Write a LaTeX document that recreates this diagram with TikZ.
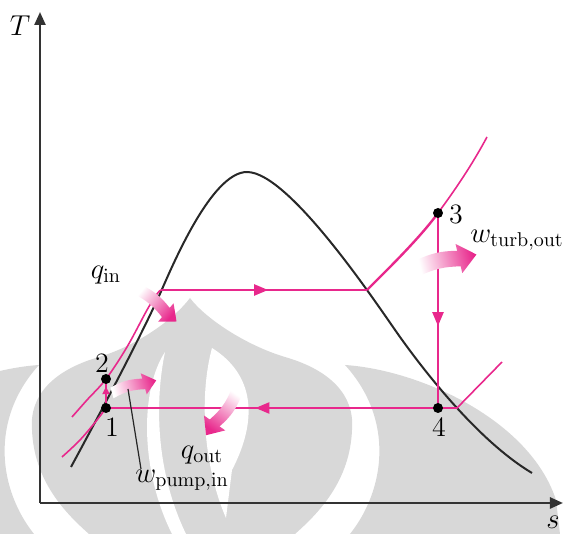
\documentclass[tikz,border=0pt]{standalone}
\usetikzlibrary{arrows.meta,decorations.markings}
\definecolor{mypink}{RGB}{232,40,140}
\definecolor{wm}{RGB}{216,216,216}
\definecolor{dome}{RGB}{40,40,40}
\newcommand{\fatarr}[8]{%
  \begin{scope}[shift={(#1,#2)},rotate=#3]
    \shade[bottom color=white,top color=mypink,shading angle={#3-90},draw=none]
      (0,#5) to[bend left=#8] (#4-#7,#5) -- (#4-#7,#6) -- (#4,0)
      -- (#4-#7,-#6) -- (#4-#7,-#5) to[bend right=#8] (0,-#5) -- cycle;
  \end{scope}}
\tikzset{
  axisline/.style={line width=1.2pt,draw=black!80,-{Triangle[length=6.5pt,width=5.5pt]}},
  domeline/.style={line width=1pt,draw=dome},
  cycleline/.style={line width=1.2pt,draw=mypink},
  thinpink/.style={line width=0.8pt,draw=mypink},
  midarr/.style={postaction={decorate},decoration={markings,
      mark=at position #1 with {\arrow[mypink]{Triangle[length=7pt,width=5.5pt]}}}},
  smallarr/.style={postaction={decorate},decoration={markings,
      mark=at position #1 with {\arrow[mypink]{Triangle[length=4pt,width=3.5pt]}}}},
  dotnode/.style={circle,fill=black,inner sep=0pt,minimum size=5pt},
  lab/.style={inner sep=0pt,font=\fontsize{14}{16}\selectfont},
}
\begin{document}
\begin{tikzpicture}[x=0.5pt,y=-0.5pt]
\useasboundingbox (0,0) rectangle (570,534);
% watermark
\fill[wm] (190,298) .. controls (205,318) and (245,345) .. (285,357)
  .. controls (330,370) and (355,395) .. (352,430)
  .. controls (350,480) and (320,512) .. (295,534) -- (89,534)
  .. controls (64,512) and (34,480) .. (32,430)
  .. controls (29,395) and (54,370) .. (99,357)
  .. controls (139,345) and (175,318) .. (190,298) -- cycle;
\fill[wm] (345,365) .. controls (420,370) and (530,420) .. (556,500) -- (560,534) -- (350,534)
  .. controls (385,490) and (395,420) .. (345,365) -- cycle;
\fill[wm] (39,365) .. controls (-36,370) and (-146,420) .. (-172,500) -- (-176,534) -- (34,534)
  .. controls (-1,490) and (-11,420) .. (39,365) -- cycle;
\fill[white] (212,348) .. controls (255,375) and (258,420) .. (232,470) -- (226,518)
  .. controls (205,470) and (198,400) .. (212,348) -- cycle;
\fill[white] (165,352) .. controls (140,390) and (140,470) .. (172,534) -- (186,534)
  .. controls (155,470) and (155,400) .. (165,352) -- cycle;
% axes
\coordinate (O) at (40,503);
\coordinate (Ttop) at (40,12);
\coordinate (Sright) at (563,503);
\draw[axisline] (O) -- (Ttop);
\draw[axisline] (O) -- (Sright);
\node[lab] (Tl) at (20,26) {$T$};
\node[lab] (sl) at (553,522) {$s$};
% dome
\draw[domeline] (71,467) .. controls (110,395) and (146,326) .. (163,287)
  .. controls (180,248) and (215,172) .. (247,172)
  .. controls (290,172) and (380,309) .. (400,337)
  .. controls (435,386) and (485,445) .. (532,473);
% cycle points
\coordinate (p1) at (106,408);
\coordinate (p2) at (106,379);
\coordinate (p3) at (438,213);
\coordinate (p4) at (438,408);
\coordinate (pa) at (161,290);
\coordinate (pb) at (367,290);
\coordinate (p4b) at (457,408);
\coordinate (lowend) at (502,362);
% isobars
\draw[thinpink] plot[smooth,tension=0.6] coordinates {(72,417) (87,400) (106,379) (127,347) (147,310) (157,294) (161,290)};
\draw[thinpink] plot[smooth,tension=0.6] coordinates {(62,457) (80,440) (97,420) (106,408)};
\draw[cycleline] (367,290) .. controls (385,272) and (420,238) .. (438,213);
\draw[thinpink] (438,213) .. controls (455,190) and (472,165) .. (487,137);
\draw[thinpink] (p4) -- (p4b) -- (lowend);
% cycle lines
\draw[cycleline,midarr=0.52] (pa) -- (pb);
\draw[cycleline,midarr=0.58] (p3) -- (p4);
\draw[cycleline,midarr=0.55] (p4) -- (p1);
\draw[cycleline,smallarr=0.75] (p1) -- (p2);
% dots
\node[dotnode] (n1) at (p1) {};
\node[dotnode] (n2) at (p2) {};
\node[dotnode] (n3) at (p3) {};
\node[dotnode] (n4) at (p4) {};
\node[lab] (l1) at (112,427) {1};
\node[lab] (l2) at (102,363) {2};
\node[lab] (l3) at (456,214) {3};
\node[lab] (l4) at (439,427) {4};
% energy arrows
\fatarr{139}{290}{-40}{49}{6}{12}{14}{12}
\fatarr{112}{393}{16}{46}{5.5}{11}{13}{14}
\fatarr{237}{391}{-125}{54}{6}{13}{15}{14}
\fatarr{418}{268}{13}{60}{8}{15}{18}{12}
% labels
\node[lab] (qin) at (106,275) {$q_{\mathrm{in}}$};
\node[lab] (qout) at (202,455) {$q_{\mathrm{out}}$};
\node[lab] (wturb) at (517,240) {$w_{\mathrm{turb,out}}$};
\node[lab] (wpump) at (182,480) {$w_{\mathrm{pump,in}}$};
\coordinate (wlead) at (128,389);
\coordinate (wleadend) at (141,469);
\draw[line width=0.6pt,draw=black!85] (wlead) -- (wleadend);
\end{tikzpicture}
\end{document}
